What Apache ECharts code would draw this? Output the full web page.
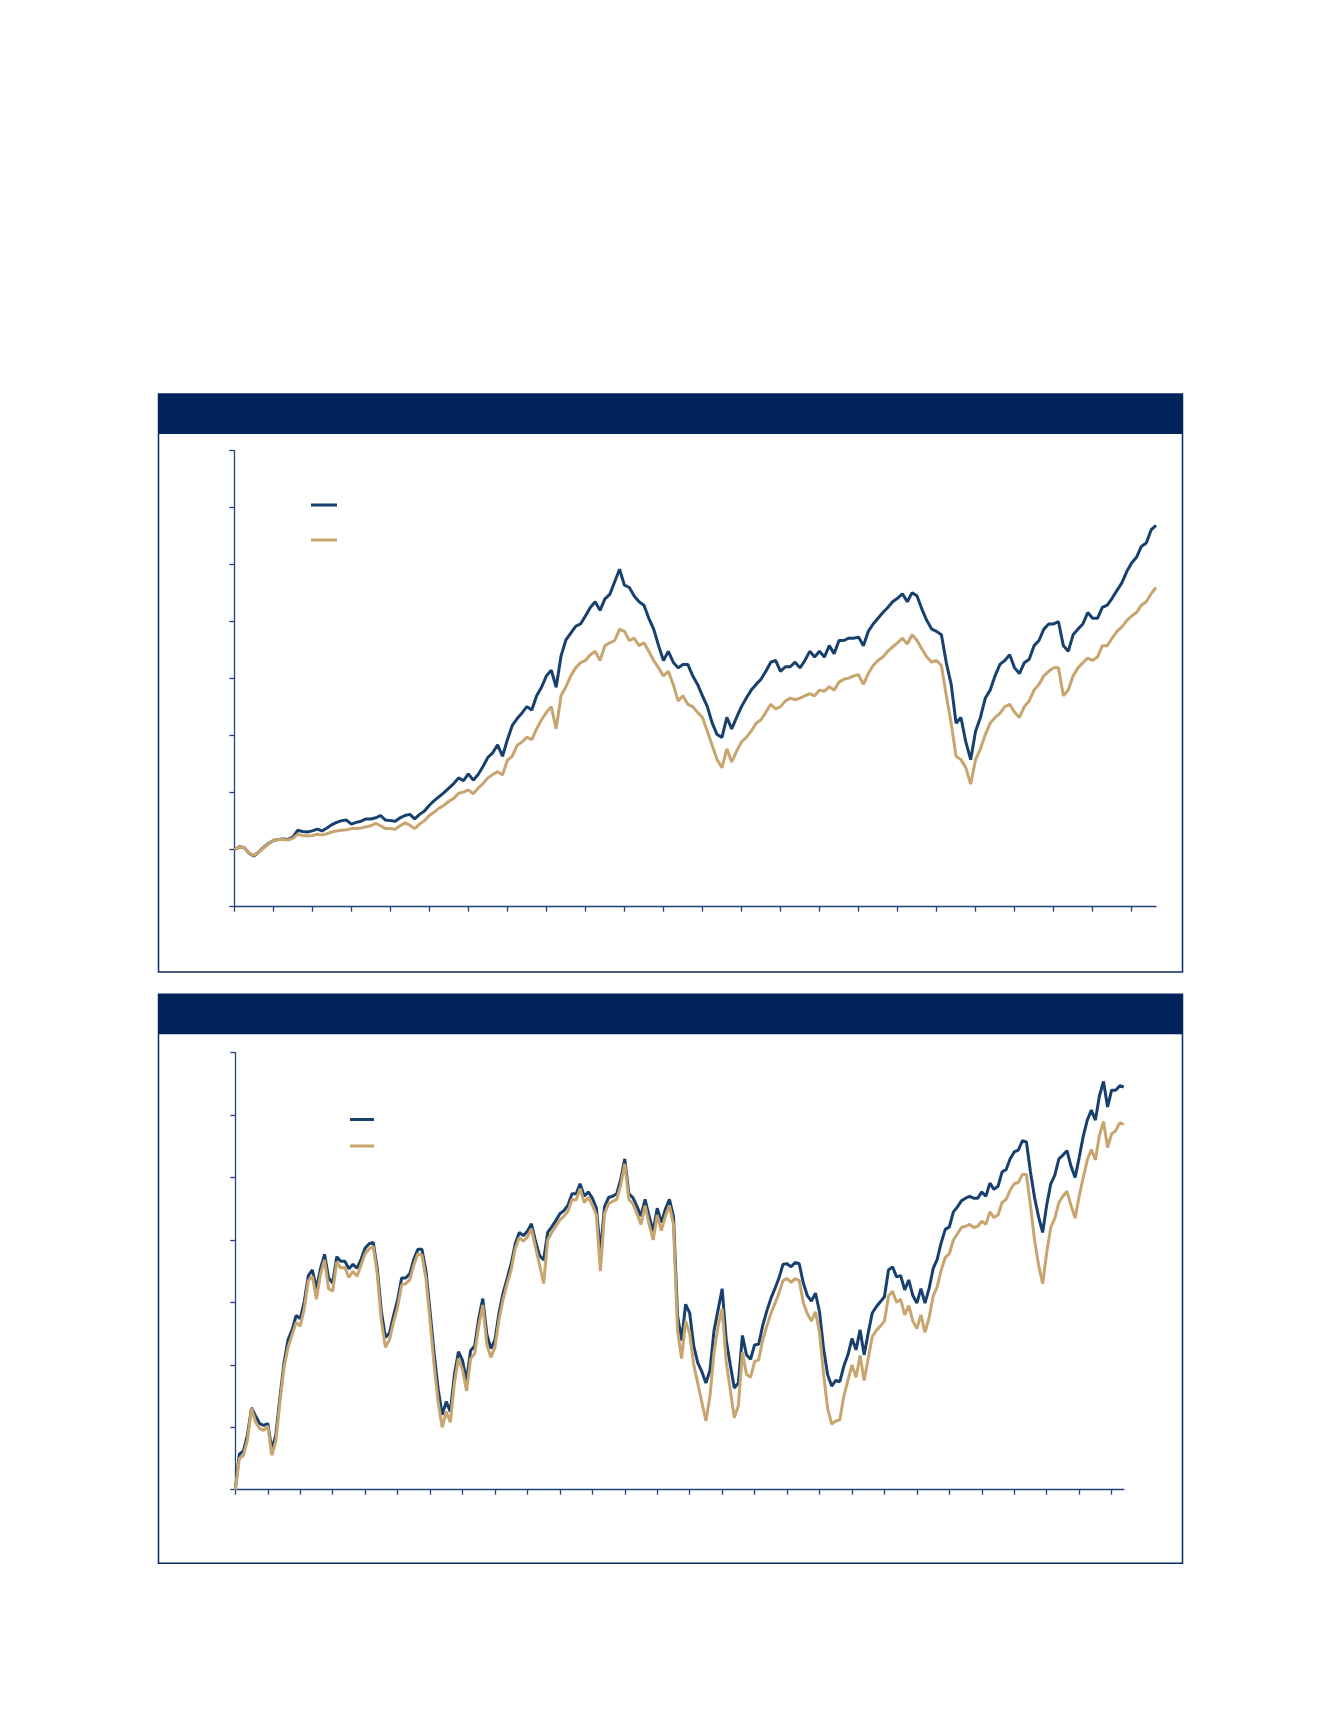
<!DOCTYPE html>
<html><head><meta charset="utf-8">
<script src="https://cdn.jsdelivr.net/npm/echarts@6.0.0/dist/echarts.min.js"></script>
<style>html,body{margin:0;padding:0;background:#fff}#c{width:1338px;height:1731px}</style>
</head><body><div id="c"></div><script>
// ---- Top panel: growth of 100, 8 observations per year ----
const topNavy = [
100,105,104,94,89,96,104,111,116,118,
119,118,122,134,132,131,133,136,133,138,
144,148,151,152,145,148,150,154,154,156,
160,152,151,150,156,160,162,154,162,168,
178,186,193,200,208,216,226,221,233,222,
232,246,262,270,284,264,293,318,330,340,
351,345,370,385,405,415,385,440,468,480,
492,496,510,525,535,520,540,548,570,592,
564,560,545,535,529,506,487,458,432,448,
429,419,425,425,405,390,370,351,322,302,
297,332,312,332,351,366,380,390,399,413,
429,432,413,421,421,429,419,432,448,438,
448,438,458,444,467,467,471,471,473,458,
483,496,506,516,525,535,541,549,535,551,
545,522,502,487,483,477,428,390,322,332,
289,258,308,332,366,380,405,425,432,442,
419,409,428,434,458,467,487,496,496,500,
458,448,477,487,496,516,506,506,525,529,
541,555,568,588,603,613,632,638,661,669
];
const topGold = [
100,105,104,94,90,96,103,110,116,118,
118,117,120,127,125,124,125,127,126,128,
131,133,134,135,137,137,138,140,142,146,
142,137,137,136,142,147,143,137,145,151,
160,166,173,178,185,190,199,201,205,198,
208,216,226,232,237,231,257,264,283,289,
297,293,312,328,341,351,312,370,386,405,
419,428,432,442,448,432,458,463,467,487,
483,467,471,458,463,448,432,419,405,413,
390,361,370,355,351,341,332,308,283,258,
244,277,254,273,289,297,308,322,328,341,
355,347,351,361,366,363,366,370,374,370,
380,378,386,380,394,399,401,405,407,390,
409,423,432,438,448,456,463,471,461,477,
467,452,438,429,432,423,370,322,264,258,
244,215,258,277,302,322,332,339,351,355,
341,332,351,361,380,390,405,413,419,419,
370,380,405,419,428,436,432,438,458,458,
471,483,491,502,510,516,529,535,549,560
];
// ---- Bottom panel: cumulative return, 8 observations per year ----
const botNavy = [
0,57,62,88,131,118,106,103,106,64,
88,148,203,240,256,279,274,301,343,352,
322,354,377,339,331,373,366,366,354,361,
355,369,387,394,396,354,286,244,251,279,
304,339,339,346,369,385,385,350,286,219,
161,120,141,125,184,221,207,175,223,230,
274,306,249,226,240,283,315,338,362,394,
412,407,414,426,398,375,368,412,421,431,
442,447,456,474,474,490,470,477,467,451,
380,453,468,470,474,497,530,474,468,454,
438,465,438,414,451,428,449,465,438,279,
239,297,283,230,203,189,171,191,255,288,
322,240,200,163,171,247,216,209,232,233,
263,286,306,322,339,361,362,357,364,362,
331,311,302,315,285,226,184,166,175,173,
198,216,242,224,256,216,251,283,293,301,
309,352,357,341,343,320,336,311,299,322,
299,322,354,369,396,417,421,445,453,463,
467,470,467,467,477,470,491,481,486,509,
513,530,541,544,559,557,509,468,437,412,
456,490,504,530,536,543,518,500,532,566,
592,608,592,631,654,613,640,640,647,645
];
const botGold = [
0,50,55,80,130,108,98,95,102,55,
78,140,195,228,248,268,262,290,335,342,
305,345,368,322,318,365,355,356,340,350,
342,360,378,386,390,345,270,228,240,268,
292,328,330,336,360,378,376,338,270,200,
140,100,125,108,170,210,192,158,210,218,
262,296,232,212,228,272,305,330,352,386,
404,398,405,418,388,360,330,400,412,422,
432,438,446,465,464,482,460,468,456,440,
350,442,458,462,465,488,522,465,458,442,
425,455,425,400,440,415,438,455,425,255,
210,270,250,200,170,140,110,150,220,262,
290,205,160,115,135,220,185,180,205,208,
240,262,282,298,315,335,338,332,338,335,
300,282,270,285,252,185,130,105,110,112,
150,175,200,180,215,175,210,245,255,262,
270,310,318,300,305,280,295,270,258,280,
252,275,310,325,352,372,378,400,410,420,
422,425,420,422,430,425,445,436,440,460,
465,480,490,492,505,505,455,400,360,330,
380,420,435,460,470,478,455,435,470,500,
528,545,528,568,590,548,570,575,588,585
];
const obsPerYear = 8;
const topCats = topNavy.map((_, i) => String(i));
const botCats = botNavy.map((_, i) => String(i));

const NAVY = '#17406f', GOLD = '#c8a56e', AXIS = '#22427a', HEAD = '#002359', BORDER = '#0b2a63';

function xAx(grid, cats) {
  return {
    type: 'category', gridIndex: grid, data: cats, boundaryGap: false,
    axisLine: { show: true, lineStyle: { color: AXIS, width: 1.3 } },
    axisTick: { show: true, length: 5, interval: (i) => i % obsPerYear === 0, lineStyle: { color: AXIS, width: 1.3 } },
    axisLabel: { show: false }, splitLine: { show: false }
  };
}
function yAx(grid, max, step) {
  return {
    type: 'value', gridIndex: grid, min: 0, max: max, interval: step,
    axisLine: { show: true, lineStyle: { color: AXIS, width: 1.3 } },
    axisTick: { show: true, length: 5, lineStyle: { color: AXIS, width: 1.3 } },
    axisLabel: { show: false }, splitLine: { show: false }
  };
}
function ln(name, grid, data, color) {
  return {
    type: 'line', name: name, xAxisIndex: grid, yAxisIndex: grid, data: data,
    showSymbol: false, symbol: 'none', lineStyle: { color: color, width: 3 }, itemStyle: { color: color },
    emphasis: { disabled: true }, animation: false
  };
}

const chart = echarts.init(document.getElementById('c'), null, { renderer: 'canvas' });
chart.setOption({
  backgroundColor: '#ffffff',
  animation: false,
  graphic: [
    { type: 'rect', z: -5, shape: { x: 158.5, y: 394, width: 1024, height: 578 }, style: { fill: '#fff', stroke: BORDER, lineWidth: 1.5 } },
    { type: 'rect', z: -4, shape: { x: 158.5, y: 394, width: 1024, height: 40 }, style: { fill: HEAD } },
    { type: 'rect', z: -5, shape: { x: 158.5, y: 994.3, width: 1024, height: 569 }, style: { fill: '#fff', stroke: BORDER, lineWidth: 1.5 } },
    { type: 'rect', z: -4, shape: { x: 158.5, y: 994.3, width: 1024, height: 40 }, style: { fill: HEAD } }
  ],
  grid: [
    { left: 234.3, top: 450.7, width: 921.7, height: 456 },
    { left: 235.3, top: 1052.7, width: 888.5, height: 437 }
  ],
  legend: [
    { data: ['Portfolio', 'Benchmark'], orient: 'vertical', left: 311, top: 503.5, padding: 0, itemGap: 32,
      icon: 'rect', itemWidth: 26, itemHeight: 3, selectedMode: false, formatter: () => '',
      textStyle: { fontSize: 3, lineHeight: 3 } },
    { data: ['Portfolio ', 'Benchmark '], orient: 'vertical', left: 350, top: 1118, padding: 0, itemGap: 23.5,
      icon: 'rect', itemWidth: 24, itemHeight: 3, selectedMode: false, formatter: () => '',
      textStyle: { fontSize: 3, lineHeight: 3 } }
  ],
  xAxis: [xAx(0, topCats), xAx(1, botCats)],
  yAxis: [yAx(0, 800, 100), yAx(1, 700, 100)],
  series: [
    ln('Portfolio', 0, topNavy, NAVY),
    ln('Benchmark', 0, topGold, GOLD),
    ln('Portfolio ', 1, botNavy, NAVY),
    ln('Benchmark ', 1, botGold, GOLD)
  ]
});
</script></body></html>
